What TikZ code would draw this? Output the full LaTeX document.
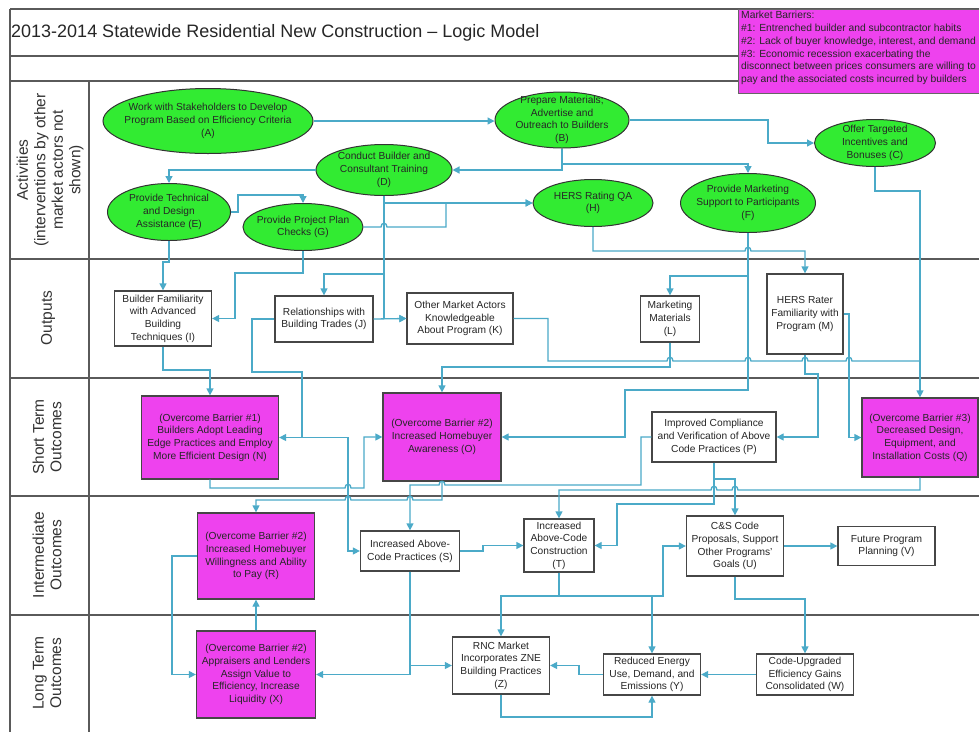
\documentclass[tikz,border=0pt]{standalone}
\usepackage{fontspec}
\setmainfont{Liberation Sans}
\usetikzlibrary{shapes.geometric,arrows.meta}
\definecolor{actgreen}{RGB}{50,235,50}
\definecolor{barmag}{RGB}{238,66,238}
\definecolor{linkblue}{RGB}{75,170,200}
\definecolor{lanegray}{RGB}{90,90,90}
\definecolor{boxgray}{RGB}{70,70,70}
\newcommand{\hopr}[2]{-- (#1-3,#2) .. controls +(0,-5) and +(0,-5) .. (#1+3,#2)}
\newcommand{\hopl}[2]{-- (#1+3,#2) .. controls +(0,-5) and +(0,-5) .. (#1-3,#2)}
\begin{document}
\begin{tikzpicture}[x=1pt,y=-1pt,
  lane/.style={draw=lanegray, line width=1.6pt},
  wh/.style 2 args={minimum width=#1pt, minimum height=#2pt},
  act/.style={ellipse, draw=black!80, line width=1pt, fill=actgreen, inner sep=0pt},
  txt/.style={font=\fontsize{10.2}{12.7}\selectfont, align=center, text=black!85, inner sep=0pt},
  outbox/.style={txt, rectangle, draw=boxgray, line width=1.3pt, fill=white, inner sep=1pt},
  barbox/.style={outbox, fill=barmag},
  lanelabel/.style={font=\fontsize{15.5}{17.5}\selectfont, align=center, rotate=90, text=black!80, inner sep=0pt},
  link/.style={draw=linkblue, line width=1.3pt},
  arr/.style={link, -{Triangle[length=7pt,width=7pt]}},
]
\useasboundingbox (0,0) rectangle (979,732);
\fill[white] (0,0) rectangle (979,732);
% frame and lanes
\draw[lane] (10,9) -- (979,9);
\draw[lane] (10,56) -- (979,56);
\draw[lane] (10,81) -- (979,81);
\draw[lane] (10,259) -- (979,259);
\draw[lane] (10,378) -- (979,378);
\draw[lane] (10,496) -- (979,496);
\draw[lane] (10,615) -- (979,615);
\draw[lane] (10,9) -- (10,732);
\draw[lane] (89,81) -- (89,732);

\node[anchor=west, font=\fontsize{18}{20}\selectfont, text=black!85, inner sep=0pt] (title) at (11,33) {2013-2014 Statewide Residential New Construction – Logic Model};

\node[draw=black!60, line width=0.8pt, fill=barmag, anchor=north west, wh={241}{84}, inner sep=0pt] (mb) at (738,9) {};
\node[anchor=north west, align=left, font=\fontsize{10.3}{12.8}\selectfont, text=black!85, inner sep=0pt] (mbt) at (741,11) {Market Barriers:\\\#1: Entrenched builder and subcontractor habits\\\#2: Lack of buyer knowledge, interest, and demand\\\#3: Economic recession exacerbating the\\disconnect between prices consumers are willing to\\pay and the associated costs incurred by builders};

% lane labels
\node[lanelabel] (lact) at (50,170) {Activities\\(interventions by other\\market actors not\\shown)};
\node[lanelabel] (lout) at (48,318) {Outputs};
\node[lanelabel] (lst) at (47,437) {Short Term\\Outcomes};
\node[lanelabel] (lint) at (47,555) {Intermediate\\Outcomes};
\node[lanelabel] (llt) at (47,673) {Long Term\\Outcomes};

% activities
\node[act, wh={210}{65}] (A) at (208,121) {};
\node[txt] (At) at (A) {Work with Stakeholders to Develop\\Program Based on Efficiency Criteria\\(A)};
\node[act, wh={134}{56}] (B) at (562,120) {};
\node[txt] (Bt) at (B) {Prepare Materials;\\Advertise and\\Outreach to Builders\\(B)};
\node[act, wh={121}{47}] (C) at (875,143) {};
\node[txt] (Ct) at (C) {Offer Targeted\\Incentives and\\Bonuses (C)};
\node[act, wh={136}{51}] (D) at (384,170) {};
\node[txt] (Dt) at (D) {Conduct Builder and\\Consultant Training\\(D)};
\node[act, wh={123}{57}] (E) at (169,212) {};
\node[txt] (Et) at (E) {Provide Technical\\and Design\\Assistance (E)};
\node[act, wh={120}{47}] (G) at (303,227) {};
\node[txt] (Gt) at (G) {Provide Project Plan\\Checks (G)};
\node[act, wh={120}{47}] (H) at (593,203) {};
\node[txt] (Ht) at (H) {HERS Rating QA\\(H)};
\node[act, wh={135}{59}] (F) at (748,203) {};
\node[txt] (Ft) at (F) {Provide Marketing\\Support to Participants\\(F)};

% outputs
\node[outbox, wh={97}{55}] (I) at (163,318.5) {Builder Familiarity\\with Advanced\\Building\\Techniques (I)};
\node[outbox, wh={98}{46}] (J) at (324,319) {Relationships with\\Building Trades (J)};
\node[outbox, wh={106}{51}] (K) at (460,318.5) {Other Market Actors\\Knowledgeable\\About Program (K)};
\node[outbox, wh={59}{46}] (L) at (670,319) {Marketing\\Materials\\(L)};
\node[outbox, wh={76}{80}] (M) at (805,314) {HERS Rater\\Familiarity with\\Program (M)};

% short term
\node[barbox, wh={137}{83}] (N) at (210,437.5) {(Overcome Barrier \#1)\\Builders Adopt Leading\\Edge Practices and Employ\\More Efficient Design (N)};
\node[barbox, wh={118}{88}] (O) at (442,437) {(Overcome Barrier \#2)\\Increased Homebuyer\\Awareness (O)};
\node[outbox, wh={124}{50}] (P) at (714,437) {Improved Compliance\\and Verification of Above\\Code Practices (P)};
\node[barbox, wh={116}{79}] (Q) at (920,437.5) {(Overcome Barrier \#3)\\Decreased Design,\\Equipment, and\\Installation Costs (Q)};

% intermediate
\node[barbox, wh={117}{86}] (R) at (256,556) {(Overcome Barrier \#2)\\Increased Homebuyer\\Willingness and Ability\\to Pay (R)};
\node[outbox, wh={99}{40}] (S) at (410,551) {Increased Above-\\Code Practices (S)};
\node[outbox, wh={70}{53}] (T) at (559,545.5) {Increased\\Above-Code\\Construction\\(T)};
\node[outbox, wh={97}{60}] (U) at (735,546) {C\&S Code\\Proposals, Support\\Other Programs'\\Goals (U)};
\node[outbox, wh={97}{39}] (V) at (886.5,546) {Future Program\\Planning (V)};

% long term
\node[barbox, wh={119}{87}] (X) at (256,674.5) {(Overcome Barrier \#2)\\Appraisers and Lenders\\Assign Value to\\Efficiency, Increase\\Liquidity (X)};
\node[outbox, wh={97}{57}] (Z) at (501,665.5) {RNC Market\\Incorporates ZNE\\Building Practices\\(Z)};
\node[outbox, wh={97}{41}] (Y) at (652,674.5) {Reduced Energy\\Use, Demand, and\\Emissions (Y)};
\node[outbox, wh={97}{41}] (W) at (805,674.5) {Code-Upgraded\\Efficiency Gains\\Consolidated (W)};

% connectors: activities
\draw[arr] (A.east) -- (A.east -| B.west);
\draw[arr] (B.east) -- (768,120) |- (C.west);
\draw[arr] (B.south) |- (D.east);
\draw[arr] (B.south) -- (562,164) -| (F.north);
\draw[arr] (D.west) -| (E.north);
\draw[arr] (E.east) -- (238,212) -- (238,195) -| (G.north);
\draw[arr] (D.south) |- (H.west);
\draw[arr] (G.east) \hopr{384}{227} -- (446,227) |- (H.west);
% to outputs
\draw[arr] (G.south) |- (235,273) |- (I.east);
\draw[arr] (E.south) -- (169,262) -- (163,262) -- (I.north);
\draw[arr] (H.south) -- (593,251) \hopr{748}{251} -- (805,251) -- (M.north);
\draw[arr] (D.south) -- (384,274) -| (J.north);
\draw[arr] (D.south) |- (K.west);
\draw[arr] (J.east) -- (K.west);
\draw[arr] (F.south) -- (748,276) -| (L.north);
\draw[arr] (F.south) -- (748,390) -| (625,437) -- (O.east);
\draw[arr] (C.south) |- (920,191) -- (Q.north);
% outputs to short term
\draw[link] (K.east) -- (548,318.5) -- (548,361) \hopr{670}{361} \hopr{748}{361} \hopr{805}{361} \hopr{849}{361} -- (920,361);
\draw[arr] (L.south) -- (670,367) -| (O.north);
\draw[arr] (M.south) -- (805,374) -| (818,437) -- (P.east);
\draw[arr] (M.east) -- (849,314) |- (Q.west);
\draw[arr] (J.west) -- (252,319) -- (252,372) -| (302,437.5) -- (N.east);
\draw[arr] (J.west) -- (252,319) -- (252,372) -- (302,372) -- (302,437.5) -- (348,437.5) -- (348,551) -- (S.west);
\draw[arr] (I.south) -- (163,370) -| (N.north);
% short term
\draw[arr] (N.south) -- (210,488) \hopr{348}{488} -- (364,488) |- (O.west);
\draw[arr] (O.south) -- (442,500) \hopl{410}{500} \hopl{348}{500} -| (R.north);
\draw[arr] (P.west) -- (641,437) -- (641,485) \hopl{442}{485} -| (S.north);
\draw[arr] (Q.south) -- (920,490) \hopl{735}{490} \hopl{714}{490} -| (T.north);
\draw[arr] (P.south) -- (714,504) -| (617,545.5) -- (T.east);
\draw[arr] (P.south) -- (714,479) -| (U.north);
% intermediate and long term
\draw[arr] (T.south) -- (559,596) -| (663,546) -- (U.west);
\draw[arr] (T.south) -- (559,596) -| (Z.north);
\draw[arr] (T.south) -- (559,596) -| (Y.north);
\draw[arr] (U.east) -- (V.west);
\draw[arr] (U.south) -- (735,599) -| (W.north);
\draw[arr] (W.west) -- (Y.east);
\draw[arr] (Y.west) -- (579,674.5) |- (Z.east);
\draw[arr] (Z.south) -- (501,717) -| (Y.south);
\draw[arr] (S.east) -- (483,551) -- (483,545.5) -- (T.west);
\draw[arr] (S.south) |- (X.east);
\draw[arr] (S.south) |- (Z.west);
\draw[arr] (R.west) -- (172,556) |- (X.west);
\draw[arr] (X.north) -- (R.south);
\end{tikzpicture}
\end{document}
